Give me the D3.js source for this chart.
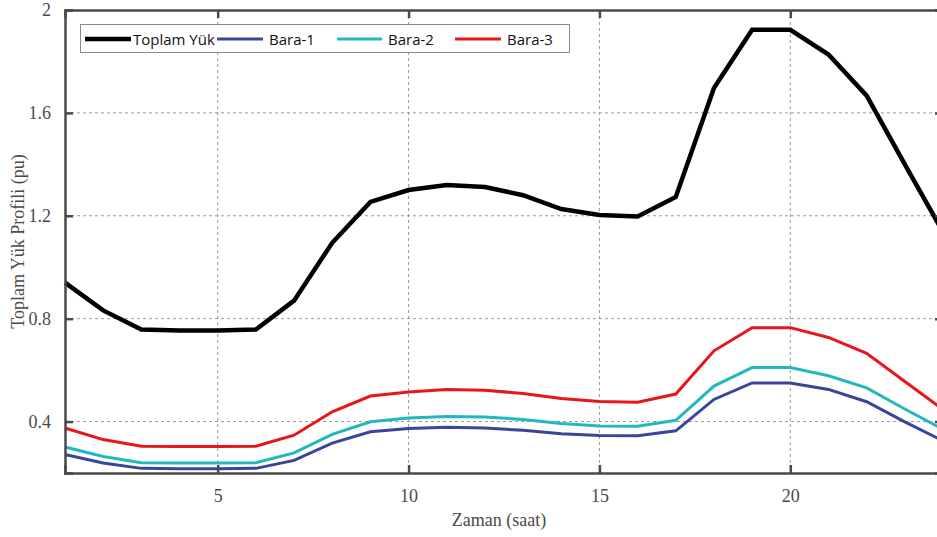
<!DOCTYPE html>
<html>
<head>
<meta charset="utf-8">
<script src="https://cdn.jsdelivr.net/npm/d3@7"></script>
<style>
body { margin: 0; background: #fff; }
svg { display: block; }
</style>
</head>
<body>
<svg id="chart" width="937" height="537"></svg>
<script>
// hours 1..24
var hours = d3.range(1, 25);
var toplam = [0.94, 0.832, 0.758, 0.754, 0.754, 0.758, 0.87, 1.095, 1.254, 1.30, 1.32, 1.312, 1.28, 1.226, 1.203, 1.197, 1.273, 1.697, 1.923, 1.923, 1.827, 1.667, 1.40, 1.137];
var bara1 = [0.272, 0.239, 0.218, 0.217, 0.217, 0.218, 0.249, 0.316, 0.36, 0.373, 0.378, 0.375, 0.366, 0.353, 0.346, 0.345, 0.364, 0.486, 0.55, 0.55, 0.525, 0.477, 0.399, 0.325];
var bara2 = [0.301, 0.264, 0.24, 0.239, 0.239, 0.24, 0.278, 0.35, 0.399, 0.414, 0.42, 0.418, 0.408, 0.392, 0.383, 0.382, 0.405, 0.538, 0.61, 0.61, 0.578, 0.531, 0.449, 0.37];
var bara3 = [0.375, 0.33, 0.304, 0.303, 0.303, 0.304, 0.347, 0.438, 0.499, 0.515, 0.525, 0.522, 0.509, 0.49, 0.478, 0.475, 0.507, 0.675, 0.765, 0.765, 0.727, 0.665, 0.556, 0.447];
var xTicks = [5, 10, 15, 20];
var yTicks = [0.4, 0.8, 1.2, 1.6, 2];

var series = [
	{ name: "Toplam Yük", values: toplam, color: "#000000", width: 4.5 },
	{ name: "Bara-1", values: bara1, color: "#3b449b", width: 3 },
	{ name: "Bara-2", values: bara2, color: "#22b8bd", width: 3 },
	{ name: "Bara-3", values: bara3, color: "#e8161b", width: 3 }
];

var svg = d3.select("#chart");
var m = { left: 65, right: 943, top: 10, bottom: 473 };

var x = d3.scaleLinear().domain([1, 24]).range([m.left, m.right]);
var y = d3.scaleLinear().domain([0.2, 2]).range([m.bottom, m.top]);

var axisColor = "#4a4a4a";

// grid
var grid = svg.append("g").attr("stroke", "#9a9a9a").attr("stroke-width", 1).attr("stroke-dasharray", "3,3");
grid.selectAll("line.gx").data(xTicks).enter().append("line")
	.attr("x1", function (d) { return x(d); }).attr("x2", function (d) { return x(d); })
	.attr("y1", m.top).attr("y2", m.bottom);
grid.selectAll("line.gy").data(yTicks.filter(function (d) { return d < 2; })).enter().append("line")
	.attr("x1", m.left).attr("x2", m.right)
	.attr("y1", function (d) { return y(d); }).attr("y2", function (d) { return y(d); });

// lines
var line = d3.line().x(function (d, i) { return x(hours[i]); }).y(function (d) { return y(d); });
svg.append("g").selectAll("path").data(series).enter().append("path")
	.attr("fill", "none")
	.attr("stroke", function (d) { return d.color; })
	.attr("stroke-width", function (d) { return d.width; })
	.attr("stroke-linejoin", "miter")
	.attr("d", function (d) { return line(d.values); });

// axes (inward ticks)
var tickFont = "Liberation Serif, Times New Roman, serif";
var xAxis = svg.append("g").attr("transform", "translate(0," + m.bottom + ")")
	.call(d3.axisBottom(x).tickValues(xTicks).tickSize(-8).tickPadding(16).tickFormat(d3.format("d")));
var yAxis = svg.append("g").attr("transform", "translate(" + m.left + ",0)")
	.call(d3.axisLeft(y).tickValues(yTicks).tickSize(-8).tickPadding(14).tickFormat(function (d) { return d === 2 ? "2" : d3.format(".1f")(d); }));
var xTop = svg.append("g").attr("transform", "translate(0," + m.top + ")")
	.call(d3.axisTop(x).tickValues(xTicks).tickSize(-8).tickFormat(""));
var yRight = svg.append("g").attr("transform", "translate(" + m.right + ",0)")
	.call(d3.axisRight(y).tickValues(yTicks).tickSize(-8).tickFormat(""));

[xAxis, yAxis, xTop, yRight].forEach(function (g) {
	g.select(".domain").attr("stroke", axisColor).attr("stroke-width", 2.5);
	g.selectAll(".tick line").attr("stroke", axisColor).attr("stroke-width", 2.5);
	g.selectAll(".tick text").attr("fill", "#4a4a4a").style("font-family", tickFont).style("font-size", "18px");
});

// axis labels
svg.append("text").attr("x", (m.left + m.right) / 2 - 5).attr("y", 526)
	.attr("text-anchor", "middle").attr("fill", "#4a4a4a")
	.style("font-family", tickFont).style("font-size", "18px")
	.text("Zaman (saat)");
svg.append("text").attr("transform", "translate(24," + ((m.top + m.bottom) / 2) + ") rotate(-90)")
	.attr("text-anchor", "middle").attr("fill", "#4a4a4a")
	.style("font-family", tickFont).style("font-size", "18px")
	.text("Toplam Yük Profili (pu)");

// legend
var legend = svg.append("g");
legend.append("rect").attr("x", 80.5).attr("y", 24.5).attr("width", 489).attr("height", 28)
	.attr("fill", "#fff").attr("stroke", "#8a8a8a").attr("stroke-width", 1);
var legendX = [[85, 131, 133], [217, 263, 269], [337, 382, 388], [455, 501, 507]];
var items = legend.selectAll("g.item").data(series).enter().append("g");
items.append("line")
	.attr("x1", function (d, i) { return legendX[i][0]; })
	.attr("x2", function (d, i) { return legendX[i][1]; })
	.attr("y1", 39).attr("y2", 39)
	.attr("stroke", function (d) { return d.color; })
	.attr("stroke-width", function (d) { return d.width; });
items.append("text")
	.attr("x", function (d, i) { return legendX[i][2]; })
	.attr("y", 44.5)
	.attr("fill", "#111")
	.style("font-family", "Open Sans, Noto Sans, sans-serif")
	.style("font-size", "15px")
	.text(function (d) { return d.name; });
</script>
</body>
</html>
